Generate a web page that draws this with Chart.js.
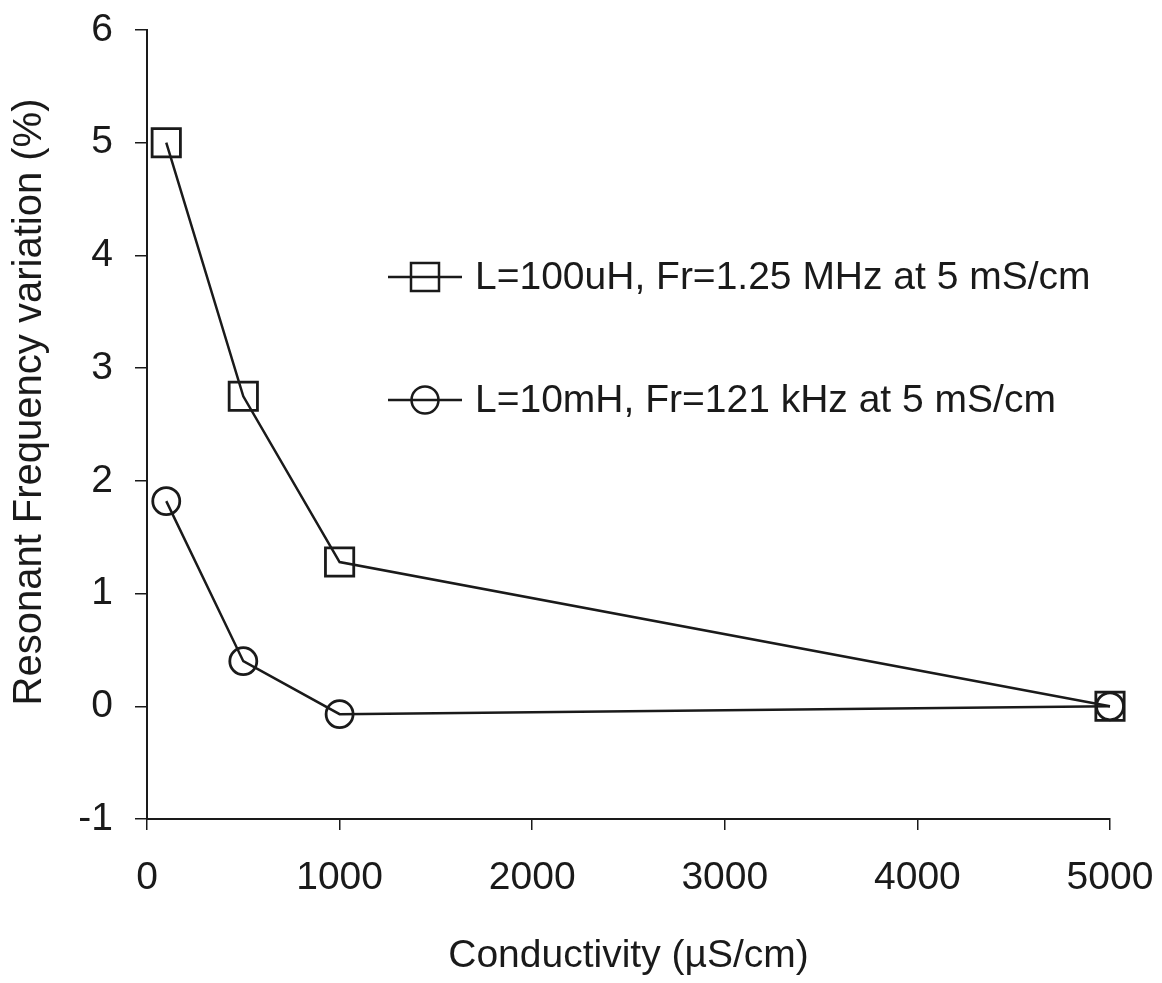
<!DOCTYPE html>
<html>
<head>
<meta charset="utf-8">
<script src="https://cdn.jsdelivr.net/npm/chart.js@4/dist/chart.umd.min.js"></script>
<style>
  html, body { margin: 0; padding: 0; background: #fff; }
  #wrap { width: 1162px; height: 983px; }
</style>
</head>
<body>
<div id="wrap"><canvas id="chart" width="1162" height="983"></canvas></div>
<script>
// conductivity (µS/cm)
const conductivity = [100, 500, 1000, 5000];
// resonant frequency variation (%)
const seriesL100uH = [5.0, 2.75, 1.28, 0.0];
const seriesL10mH = [1.82, 0.4, -0.07, 0.0];
const seriesLabels = [
    "L=100uH, Fr=1.25 MHz at 5 mS/cm",
    "L=10mH, Fr=121 kHz at 5 mS/cm"
];
const xTicks = [0, 1000, 2000, 3000, 4000, 5000];
const yTicks = [-1, 0, 1, 2, 3, 4, 5, 6];
const xTitle = "Conductivity (µS/cm)";
const yTitle = "Resonant Frequency variation (%)";

const FONT = "Liberation Sans, Arial, sans-serif";
const INK = "#1a1a1a";

const toPoints = (ys) => conductivity.map((x, i) => ({ x, y: ys[i] }));

// legend inside the plot + y title, placed like the original figure
const figureText = {
    id: "figureText",
    afterDraw(chart){
        const ctx = chart.ctx;
        const rows = [277, 400];
        const x0 = 388;
        ctx.save();
        chart.data.datasets.forEach((ds, i) => {
            const y = rows[i];
            ctx.strokeStyle = INK;
            ctx.lineWidth = 2.5;
            ctx.beginPath();
            ctx.moveTo(x0, y);
            ctx.lineTo(x0 + 74, y);
            ctx.stroke();
            ctx.beginPath();
            if(ds.pointStyle === "rect"){
                ctx.rect(x0 + 37 - 14, y - 14, 28, 28);
            } else {
                ctx.arc(x0 + 37, y, 13.5, 0, Math.PI * 2);
            }
            ctx.stroke();
            ctx.fillStyle = INK;
            ctx.font = `39px ${FONT}`;
            ctx.textBaseline = "middle";
            ctx.textAlign = "left";
            ctx.fillText(ds.label, 475, y + 1);
        });

        ctx.translate(30, 402);
        ctx.rotate(-Math.PI / 2);
        ctx.font = `40px ${FONT}`;
        ctx.textAlign = "center";
        ctx.textBaseline = "middle";
        ctx.fillText(yTitle, 0, 0);
        ctx.restore();
    }
};

new Chart(document.getElementById("chart"), {
    type: "line",
    data: {
        datasets: [{
            label: seriesLabels[0],
            data: toPoints(seriesL100uH),
            borderColor: INK,
            borderWidth: 2.5,
            pointStyle: "rect",
            pointRadius: 20,
            pointBorderWidth: 2.8,
            pointBorderColor: INK,
            pointBackgroundColor: "rgba(0,0,0,0)",
            tension: 0,
            clip: false
        }, {
            label: seriesLabels[1],
            data: toPoints(seriesL10mH),
            borderColor: INK,
            borderWidth: 2.5,
            pointStyle: "circle",
            pointRadius: 13.5,
            pointBorderWidth: 2.8,
            pointBorderColor: INK,
            pointBackgroundColor: "rgba(0,0,0,0)",
            tension: 0,
            clip: false
        }]
    },
    options: {
        responsive: false,
        animation: false,
        layout: { padding: { top: 30, right: 52, left: 0, bottom: 0 } },
        plugins: {
            legend: { display: false },
            tooltip: { enabled: false }
        },
        scales: {
            x: {
                type: "linear",
                min: 0,
                max: 5000,
                afterBuildTicks: (scale) => { scale.ticks = xTicks.map(v => ({ value: v })); },
                afterFit: (scale) => {
                    scale.height = 164;
                    scale.paddingLeft = 0;
                    scale.paddingRight = 0;
                },
                grid: { drawOnChartArea: false, tickLength: 11, color: INK, lineWidth: 1.5 },
                border: { display: true, color: INK, width: 2 },
                ticks: {
                    color: INK,
                    padding: 25,
                    font: { family: FONT, size: 39 },
                    callback: (v) => String(v)
                },
                title: {
                    display: true,
                    text: xTitle,
                    color: INK,
                    font: { family: FONT, size: 39 },
                    padding: { top: 0, bottom: 3 }
                }
            },
            y: {
                type: "linear",
                min: -1,
                max: 6,
                afterBuildTicks: (scale) => { scale.ticks = yTicks.map(v => ({ value: v })); },
                afterFit: (scale) => {
                    scale.width = 147;
                    scale.paddingTop = 0;
                    scale.paddingBottom = 0;
                },
                grid: { drawOnChartArea: false, tickLength: 12, color: INK, lineWidth: 1.5 },
                border: { display: true, color: INK, width: 2 },
                ticks: {
                    color: INK,
                    padding: 22,
                    font: { family: FONT, size: 39 },
                    callback: (v) => String(v)
                },
                title: { display: false }
            }
        }
    },
    plugins: [figureText]
});
</script>
</body>
</html>
